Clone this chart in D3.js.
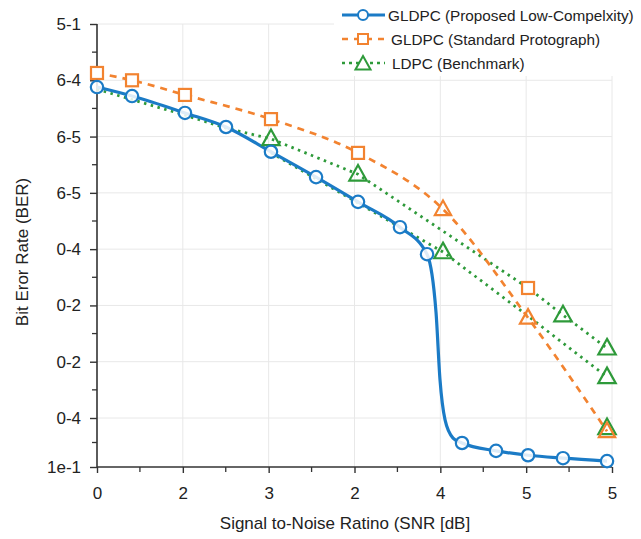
<!DOCTYPE html>
<html>
<head>
<meta charset="utf-8">
<script src="https://cdn.jsdelivr.net/npm/d3@7"></script>
<style>
  html, body { margin: 0; padding: 0; background: #fff; }
  text { font-family: "Liberation Sans", Arial, Helvetica, sans-serif; fill: #222; }
</style>
</head>
<body>
<svg id="chart" width="641" height="539"></svg>
<script>
// ---- data (x in tick-index units, y in axis-level units) ----
const xTickLabels = ["0", "2", "3", "2", "4", "5", "5"];
const yTickLabels = ["1e-1", "0-4", "0-2", "0-2", "0-4", "6-5", "6-5", "6-4", "5-1"];

const seriesNames = [
  "GLDPC (Proposed Low-Compelxity)",
  "GLDPC (Standard Protograph)",
  "LDPC (Benchmark)"
];

// Proposed (blue): marked points
const blueX = [0, 0.408, 1.025, 1.503, 2.027, 2.552, 3.041, 3.530, 3.845, 4.253, 4.649, 5.022, 5.429, 5.942];
const blueY = [6.88, 6.72, 6.42, 6.17, 5.73, 5.28, 4.84, 4.39, 3.91, 0.49, 0.33, 0.24, 0.18, 0.12];
// Proposed (blue): traced curve points of the waterfall drop (no markers)
const blueDropX = [3.950, 3.996, 4.055, 4.148];
const blueDropY = [2.87, 1.68, 0.96, 0.59];

// Standard protograph (orange)
const orangeX = [0, 0.408, 1.025, 2.027, 3.041, 4.031, 5.022, 5.942];
const orangeY = [7.13, 7.00, 6.74, 6.31, 5.71, 4.71, 2.78, 0.73];
const orangeSquareX = [0, 0.408, 1.025, 2.027, 3.041, 5.022];
const orangeSquareY = [7.13, 7.00, 6.74, 6.31, 5.71, 3.31];
const orangeTriX = [4.031, 5.022, 5.942];
const orangeTriY = [4.71, 2.78, 0.73];

// Benchmark (green), two dotted traces
const greenAX = [0, 1.025, 1.503, 2.027, 3.041, 5.022, 5.429, 5.942];
const greenAY = [6.84, 6.38, 6.15, 5.96, 5.33, 3.31, 2.83, 2.24];
const greenBX = [2.027, 3.041, 4.031, 5.022, 5.942];
const greenBY = [5.71, 4.82, 3.95, 2.81, 1.73];
const greenTriX = [2.027, 3.041, 4.031, 5.429, 5.942, 5.942, 5.942];
const greenTriY = [5.96, 5.33, 3.95, 2.83, 2.24, 1.73, 0.80];

// ---- styling ----
const BLUE = "#1b7bc6", ORANGE = "#f28330", GREEN = "#2e9a3a";
const svg = d3.select("#chart");

const x = d3.scaleLinear().domain([0, 6]).range([97, 612]);
const y = d3.scaleLinear().domain([0, 1, 8]).range([467, 418, 24]);

const majorX = d3.range(0, 7);
const minorX = d3.range(0.5, 6, 1);
const majorY = d3.range(0, 9);
const minorY = d3.range(0.5, 8, 1);

// gridlines
const grid = svg.append("g");
grid.selectAll(".vg").data(majorX.slice(1)).join("line")
  .attr("x1", d => x(d)).attr("x2", d => x(d))
  .attr("y1", y(8)).attr("y2", y(0))
  .attr("stroke", "#e8e8e8").attr("stroke-width", 1);
grid.selectAll(".hg").data(majorY.slice(1)).join("line")
  .attr("x1", x(0)).attr("x2", x(6))
  .attr("y1", d => y(d)).attr("y2", d => y(d))
  .attr("stroke", "#e8e8e8").attr("stroke-width", 1);

// axes
const xAxis = d3.axisBottom(x).tickValues(majorX)
  .tickFormat((d, i) => xTickLabels[i]).tickSize(6).tickPadding(14);
const yAxis = d3.axisLeft(y).tickValues(majorY)
  .tickFormat((d, i) => yTickLabels[i]).tickSize(7).tickPadding(9);

const gx = svg.append("g").attr("transform", `translate(0,${y(0)})`).call(xAxis);
const gy = svg.append("g").attr("transform", `translate(${x(0)},0)`).call(yAxis);
[gx, gy].forEach(g => {
  g.select(".domain").attr("stroke", "#333").attr("stroke-width", 1.6);
  g.selectAll(".tick line").attr("stroke", "#333").attr("stroke-width", 1.4);
  g.selectAll(".tick text").attr("font-size", 17).attr("fill", "#222")
    .attr("font-family", "Liberation Sans, Arial, sans-serif");
});
gy.select(".domain").attr("d", `M-0,${y(8)}H0V${y(0)}H-0`);
gx.select(".domain").attr("d", `M${x(0)},0V0H${x(6)}V0`);

// minor ticks
svg.append("g").selectAll("line").data(minorX).join("line")
  .attr("x1", d => x(d)).attr("x2", d => x(d))
  .attr("y1", y(0)).attr("y2", y(0) + 5)
  .attr("stroke", "#333").attr("stroke-width", 1.3);
svg.append("g").selectAll("line").data(minorY).join("line")
  .attr("x1", x(0) - 5).attr("x2", x(0))
  .attr("y1", d => y(d)).attr("y2", d => y(d))
  .attr("stroke", "#333").attr("stroke-width", 1.3);

// axis titles
svg.append("text").attr("x", 345).attr("y", 529).attr("text-anchor", "middle")
  .attr("font-size", 17).text("Signal to-Noise Ratino (SNR [dB]");
svg.append("text").attr("transform", "translate(28,252) rotate(-90)")
  .attr("text-anchor", "middle").attr("font-size", 17).text("Bit Eror Rate (BER)");

// lines
const zip = (xs, ys) => xs.map((v, i) => [v, ys[i]]);
const lineLin = d3.line().x(d => x(d[0])).y(d => y(d[1]));
const lineSmooth = d3.line().x(d => x(d[0])).y(d => y(d[1])).curve(d3.curveMonotoneX);

const bluePts = zip(blueX, blueY).concat(zip(blueDropX, blueDropY)).sort((a, b) => a[0] - b[0]);

svg.append("path").datum(zip(greenAX, greenAY)).attr("d", lineLin)
  .attr("fill", "none").attr("stroke", GREEN).attr("stroke-width", 2.8)
  .attr("stroke-dasharray", "2.5,4.5");
svg.append("path").datum(zip(greenBX, greenBY)).attr("d", lineLin)
  .attr("fill", "none").attr("stroke", GREEN).attr("stroke-width", 2.8)
  .attr("stroke-dasharray", "2.5,4.5");
svg.append("path").datum(zip(orangeX, orangeY)).attr("d", lineSmooth)
  .attr("fill", "none").attr("stroke", ORANGE).attr("stroke-width", 2.7)
  .attr("stroke-dasharray", "7,6");
svg.append("path").datum(bluePts).attr("d", lineSmooth)
  .attr("fill", "none").attr("stroke", BLUE).attr("stroke-width", 3.2);

// markers
const tri = (s) => `M0,${-s * 0.62}L${s * 0.58},${s * 0.42}L${-s * 0.58},${s * 0.42}Z`;
svg.append("g").selectAll("path").data(zip(greenTriX, greenTriY)).join("path")
  .attr("transform", d => `translate(${x(d[0])},${y(d[1])})`)
  .attr("d", tri(15)).attr("fill", "none").attr("stroke", GREEN).attr("stroke-width", 2.2);
svg.append("g").selectAll("rect").data(zip(orangeSquareX, orangeSquareY)).join("rect")
  .attr("x", d => x(d[0]) - 6).attr("y", d => y(d[1]) - 6)
  .attr("width", 12).attr("height", 12)
  .attr("fill", "#fff").attr("stroke", ORANGE).attr("stroke-width", 2.2);
svg.append("g").selectAll("path").data(zip(orangeTriX, orangeTriY)).join("path")
  .attr("transform", d => `translate(${x(d[0])},${y(d[1])})`)
  .attr("d", tri(14)).attr("fill", "none").attr("stroke", ORANGE).attr("stroke-width", 2.2);
svg.append("g").selectAll("circle").data(zip(blueX, blueY)).join("circle")
  .attr("cx", d => x(d[0])).attr("cy", d => y(d[1])).attr("r", 6.2)
  .attr("fill", "#fff").attr("fill-opacity", 0.85).attr("stroke", BLUE).attr("stroke-width", 2.2);

// legend
const lg = svg.append("g");
lg.append("rect").attr("x", 334).attr("y", 0).attr("width", 307).attr("height", 76).attr("fill", "#fff");
const rowsY = [15, 39, 63];
const sx0 = 342, sx1 = 385, mx = 363;
// row 1
lg.append("line").attr("x1", sx0).attr("x2", sx1).attr("y1", rowsY[0]).attr("y2", rowsY[0])
  .attr("stroke", BLUE).attr("stroke-width", 3);
lg.append("circle").attr("cx", mx).attr("cy", rowsY[0]).attr("r", 5)
  .attr("fill", "#fff").attr("stroke", BLUE).attr("stroke-width", 2);
// row 2
lg.append("line").attr("x1", sx0).attr("x2", sx1).attr("y1", rowsY[1]).attr("y2", rowsY[1])
  .attr("stroke", ORANGE).attr("stroke-width", 2.6).attr("stroke-dasharray", "6,6");
lg.append("rect").attr("x", mx - 5).attr("y", rowsY[1] - 5).attr("width", 10).attr("height", 10)
  .attr("fill", "#fff").attr("stroke", ORANGE).attr("stroke-width", 2);
// row 3
lg.append("line").attr("x1", sx0).attr("x2", sx1).attr("y1", rowsY[2]).attr("y2", rowsY[2])
  .attr("stroke", GREEN).attr("stroke-width", 2.6).attr("stroke-dasharray", "3,4");
lg.append("path").attr("transform", `translate(${mx},${rowsY[2] + 1})`).attr("d", tri(13))
  .attr("fill", "#fff").attr("stroke", GREEN).attr("stroke-width", 2);
lg.selectAll("text").data(seriesNames).join("text")
  .attr("x", (d, i) => [388, 391, 392][i]).attr("y", (d, i) => rowsY[i] + 5.5)
  .attr("font-size", 15.3).text(d => d);
</script>
</body>
</html>
